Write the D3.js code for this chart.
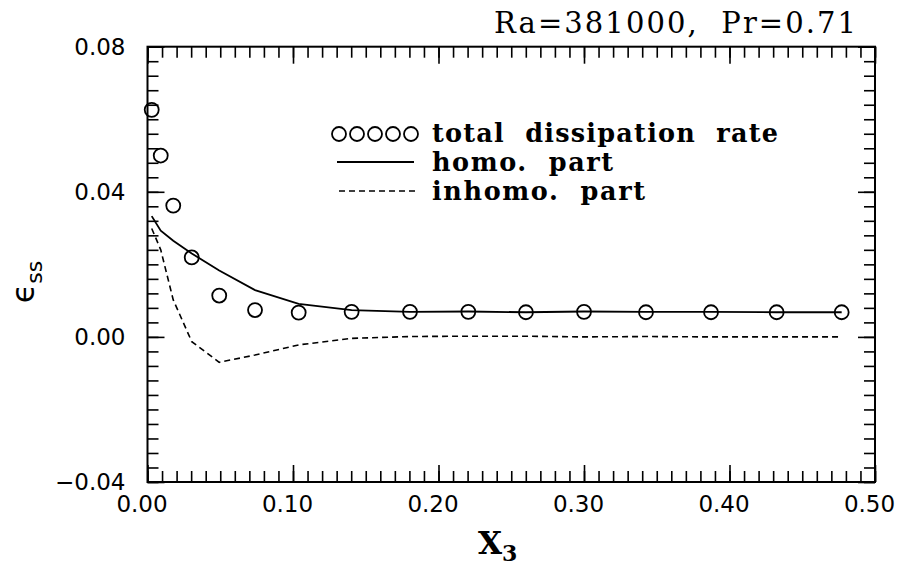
<!DOCTYPE html>
<html>
<head>
<meta charset="utf-8">
<script src="https://cdn.jsdelivr.net/npm/d3@7"></script>
<style>
  html, body { margin: 0; padding: 0; background: #fff; }
  svg { display: block; }
  .tick text { font-family: "DejaVu Sans", sans-serif; font-size: 23px; fill: #000; }
</style>
</head>
<body>
<svg id="chart" width="901" height="570"></svg>
<script>
// Streamwise positions of the sampled planes
const x3 = [0.0029, 0.0091, 0.0177, 0.0304, 0.0493, 0.0739, 0.1039, 0.1403, 0.1804,
            0.2205, 0.2601, 0.3000, 0.3426, 0.3873, 0.4324, 0.4771];
// Total dissipation rate (symbols)
const totalRate = [0.0626, 0.0500, 0.0362, 0.0219, 0.0114, 0.0074, 0.0067, 0.0069, 0.0069,
                   0.0069, 0.0068, 0.0069, 0.0068, 0.0068, 0.0068, 0.0068];
// Homogeneous part (solid line)
const homoPart = [0.0333, 0.0293, 0.0265, 0.0230, 0.0183, 0.0129, 0.0091, 0.0074, 0.0069,
                  0.0070, 0.0068, 0.0070, 0.0069, 0.0069, 0.0068, 0.0068];
// Inhomogeneous part (dashed line)
const inhomoPart = [0.0299, 0.0240, 0.0102, -0.0013, -0.0070, -0.0050, -0.0022, -0.0004, 0.0001,
                    0.0002, 0.0002, 0.0000, 0.0001, 0.0000, 0.0000, 0.0000];

const xMajorTicks = [0.00, 0.10, 0.20, 0.30, 0.40, 0.50];
const yMajorTicks = [-0.04, 0.00, 0.04, 0.08];
const xMinorTicks = d3.range(0, 51).map(i => i / 100);
const yMinorTicks = d3.range(-10, 21).map(i => i * 0.004);

const titleText = "Ra=381000,  Pr=0.71";
const legendLabels = ["total  dissipation  rate", "homo.  part", "inhomo.  part"];

const svg = d3.select("#chart");
const plotLeft = 147.5, plotRight = 875, plotTop = 46.7, plotBottom = 482;

const x = d3.scaleLinear().domain([0, 0.5]).range([plotLeft, plotRight]);
const y = d3.scaleLinear().domain([-0.04, 0.08]).range([plotBottom, plotTop]);

function styleAxis(g) {
  g.select(".domain").remove();
  g.selectAll(".tick line").attr("stroke", "#000").attr("stroke-width", 1.6);
}

// inward minor ticks on all four sides
svg.append("g").attr("transform", `translate(0,${plotBottom})`)
  .call(d3.axisBottom(x).tickValues(xMinorTicks).tickSize(-11).tickFormat("")).call(styleAxis);
svg.append("g").attr("transform", `translate(0,${plotTop})`)
  .call(d3.axisTop(x).tickValues(xMinorTicks).tickSize(-11).tickFormat("")).call(styleAxis);
svg.append("g").attr("transform", `translate(${plotLeft},0)`)
  .call(d3.axisLeft(y).tickValues(yMinorTicks).tickSize(-11).tickFormat("")).call(styleAxis);
svg.append("g").attr("transform", `translate(${plotRight},0)`)
  .call(d3.axisRight(y).tickValues(yMinorTicks).tickSize(-11).tickFormat("")).call(styleAxis);

// longer major ticks with labels
const gxb = svg.append("g").attr("transform", `translate(0,${plotBottom})`)
  .call(d3.axisBottom(x).tickValues(xMajorTicks).tickSize(-17).tickPadding(14).tickFormat(d3.format(".2f")))
  .call(styleAxis);
gxb.selectAll(".tick text").attr("dx", -6);
svg.append("g").attr("transform", `translate(0,${plotTop})`)
  .call(d3.axisTop(x).tickValues(xMajorTicks).tickSize(-17).tickFormat("")).call(styleAxis);
svg.append("g").attr("transform", `translate(${plotLeft},0)`)
  .call(d3.axisLeft(y).tickValues(yMajorTicks).tickSize(-17).tickPadding(22)
    .tickFormat(d => d < 0 ? "\u2212" + d3.format(".2f")(-d) : d3.format(".2f")(d)))
  .call(styleAxis);
svg.append("g").attr("transform", `translate(${plotRight},0)`)
  .call(d3.axisRight(y).tickValues(yMajorTicks).tickSize(-17).tickFormat("")).call(styleAxis);

// frame
svg.append("rect")
  .attr("x", plotLeft).attr("y", plotTop)
  .attr("width", plotRight - plotLeft).attr("height", plotBottom - plotTop)
  .attr("fill", "none").attr("stroke", "#000").attr("stroke-width", 2);

// series
const pts = x3.map((d, i) => ({ x: d, total: totalRate[i], homo: homoPart[i], inhomo: inhomoPart[i] }));

svg.append("path").datum(pts)
  .attr("fill", "none").attr("stroke", "#000").attr("stroke-width", 1.8)
  .attr("d", d3.line().x(d => x(d.x)).y(d => y(d.homo)));

svg.append("path").datum(pts)
  .attr("fill", "none").attr("stroke", "#000").attr("stroke-width", 1.6)
  .attr("stroke-dasharray", "6,4")
  .attr("d", d3.line().x(d => x(d.x)).y(d => y(d.inhomo)));

svg.append("g").selectAll("circle").data(pts).join("circle")
  .attr("cx", d => x(d.x)).attr("cy", d => y(d.total)).attr("r", 7)
  .attr("fill", "none").attr("stroke", "#000").attr("stroke-width", 1.8);

// legend
const lg = svg.append("g");
[339, 357, 375, 393, 411].forEach(cx => {
  lg.append("circle").attr("cx", cx).attr("cy", 134).attr("r", 7)
    .attr("fill", "none").attr("stroke", "#000").attr("stroke-width", 1.8);
});
lg.append("line").attr("x1", 337).attr("x2", 414).attr("y1", 162).attr("y2", 162)
  .attr("stroke", "#000").attr("stroke-width", 1.8);
lg.append("line").attr("x1", 339).attr("x2", 415).attr("y1", 191).attr("y2", 191)
  .attr("stroke", "#000").attr("stroke-width", 1.6).attr("stroke-dasharray", "6,4");

const legendWidths = [346, 181, 213];
const legendBaselines = [142, 171, 200];
legendLabels.forEach((t, i) => {
  lg.append("text").attr("x", 432).attr("y", legendBaselines[i])
    .attr("font-family", "DejaVu Serif, serif").attr("font-weight", "bold")
    .attr("font-size", 25.5).style("white-space", "pre")
    .attr("textLength", legendWidths[i]).attr("lengthAdjust", "spacing")
    .text(t);
});

// title
svg.append("text").attr("x", 494).attr("y", 33)
  .attr("font-family", "DejaVu Serif, serif").attr("font-size", 29)
  .style("white-space", "pre")
  .attr("textLength", 362).attr("lengthAdjust", "spacing")
  .text(titleText);

// x-axis title
const xt = svg.append("text").attr("x", 478).attr("y", 554)
  .attr("font-family", "DejaVu Serif, serif").attr("font-weight", "bold").attr("font-size", 31);
xt.append("tspan").text("X");
xt.append("tspan").attr("font-size", 22).attr("dy", 7).text("3");

// y-axis title
const yt = svg.append("text")
  .attr("transform", "translate(34,282) rotate(-90)")
  .attr("text-anchor", "middle")
  .attr("font-family", "DejaVu Sans, sans-serif").attr("font-size", 32);
yt.append("tspan").text("\u03F5");
yt.append("tspan").attr("font-size", 22).attr("dy", 8).text("ss");
</script>
</body>
</html>
